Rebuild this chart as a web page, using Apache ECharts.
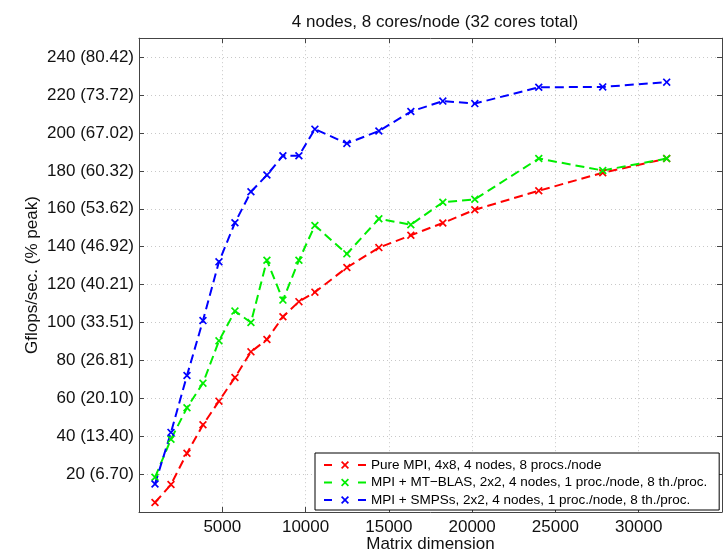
<!DOCTYPE html>
<html>
<head>
<meta charset="utf-8">
<script src="https://cdn.jsdelivr.net/npm/echarts@6/dist/echarts.min.js"></script>
<style>html,body{margin:0;padding:0;background:#fff}#c{width:725px;height:558px}</style>
</head>
<body>
<div id="c"></div>
<script>
// ---- data ----
var matrixDims = [960,1920,2880,3840,4800,5760,6720,7680,8640,9600,10560,12480,14400,16320,18240,20160,24000,27840,31680];
var pureMPI   = [5,14.5,31,46,58.5,71,84.5,91,103,111,116,129,139.5,146,152.5,159.5,169.5,179,186.5];
var mtBLAS    = [18.3,38.4,55,68,90.3,106,100,132.8,111.8,132.8,151.2,136.2,154.7,151.6,163.4,165,186.5,180.2,186.5];
var smpss     = [14.8,42,72,101,132,152.6,169,177.8,188,188,202,194.5,201,211.3,216.8,215.5,224.1,224.3,226.8];
var seriesNames = [
  'Pure MPI, 4x8, 4 nodes, 8 procs./node',
  'MPI + MT\u2212BLAS, 2x2, 4 nodes, 1 proc./node, 8 th./proc.',
  'MPI + SMPSs, 2x2, 4 nodes, 1 proc./node, 8 th./proc.'
];
var yTickValues = [20,40,60,80,100,120,140,160,180,200,220,240];
var yTickLabels = ['20 (6.70)','40 (13.40)','60 (20.10)','80 (26.81)','100 (33.51)','120 (40.21)','140 (46.92)','160 (53.62)','180 (60.32)','200 (67.02)','220 (73.72)','240 (80.42)'];
var xTickValues = [5000,10000,15000,20000,25000,30000];
var xTickLabels = ['5000','10000','15000','20000','25000','30000'];

function pairs(xs, ys){ return xs.map(function(x,i){ return [x, ys[i]]; }); }
var X_SYMBOL = 'path://M0,1.5L1.5,0L5,3.5L8.5,0L10,1.5L6.5,5L10,8.5L8.5,10L5,6.5L1.5,10L0,8.5L3.5,5Z';
var FONT = 'Liberation Sans, Arial, Helvetica, sans-serif';
var colors = ['#ff0000','#00ee00','#0000ff'];
var datas = [pureMPI, mtBLAS, smpss];

var chart = echarts.init(document.getElementById('c'));
var axisLine = {show:true, onZero:false, lineStyle:{color:'#444', width:1}};
var tick = {show:true, inside:true, length:5, lineStyle:{color:'#444'}};
var grid = {show:true, lineStyle:{color:'#c8c8c8', type:[1,3], width:1}};
chart.setOption({
  animation:false,
  backgroundColor:'#fff',
  title:{text:'4 nodes, 8 cores/node (32 cores total)', left:430, top:9, textAlign:'center',
    textStyle:{fontFamily:FONT, fontSize:17, fontWeight:'normal', color:'#111'}},
  grid:{left:139, right:2, top:38.2, bottom:43.8, containLabel:false},
  legend:{
    orient:'vertical', left:315, top:453,
    data:seriesNames,
    itemWidth:42, itemHeight:10, itemGap:3.5,
    backgroundColor:'#fff', borderColor:'#000', borderWidth:1,
    padding:[5,12,3,8],
    lineStyle:{type:[8,26], width:2},
    textStyle:{fontFamily:FONT, fontSize:13.5, color:'#000', lineHeight:14}
  },
  xAxis:[
    {type:'value', min:0, max:35000, interval:5000, position:'bottom',
     name:'Matrix dimension', nameLocation:'middle', nameGap:24, nameMoveOverlap:false,
     nameTextStyle:{fontFamily:FONT, fontSize:17, color:'#111'},
     axisLine:axisLine, axisTick:tick, splitLine:grid,
     axisLabel:{fontFamily:FONT, fontSize:17, color:'#111', margin:7,
       formatter:function(v){ var i=xTickValues.indexOf(v); return i<0?'':xTickLabels[i]; }}},
    {type:'value', min:0, max:35000, interval:5000, position:'top',
     axisLine:axisLine, axisTick:tick, splitLine:{show:false}, axisLabel:{show:false}}
  ],
  yAxis:[
    {type:'value', min:0, max:250, interval:20, position:'left',
     name:'Gflops/sec. (% peak)', nameLocation:'middle', nameGap:98, nameMoveOverlap:false,
     nameTextStyle:{fontFamily:FONT, fontSize:17, color:'#111'},
     axisLine:axisLine, axisTick:tick, splitLine:grid,
     axisLabel:{fontFamily:FONT, fontSize:17, color:'#111', margin:5,
       formatter:function(v){ var i=yTickValues.indexOf(v); return i<0?'':yTickLabels[i]; }}},
    {type:'value', min:0, max:250, interval:20, position:'right',
     axisLine:axisLine, axisTick:tick, splitLine:{show:false}, axisLabel:{show:false}}
  ],
  series: datas.map(function(d,i){
    return {
      name:seriesNames[i], type:'line', xAxisIndex:0, yAxisIndex:0,
      data:pairs(matrixDims, d),
      symbol:X_SYMBOL, symbolSize:8, showAllSymbol:true,
      itemStyle:{color:colors[i]},
      lineStyle:{color:colors[i], width:2, type:[9,5]}
    };
  })
});
</script>
</body>
</html>
